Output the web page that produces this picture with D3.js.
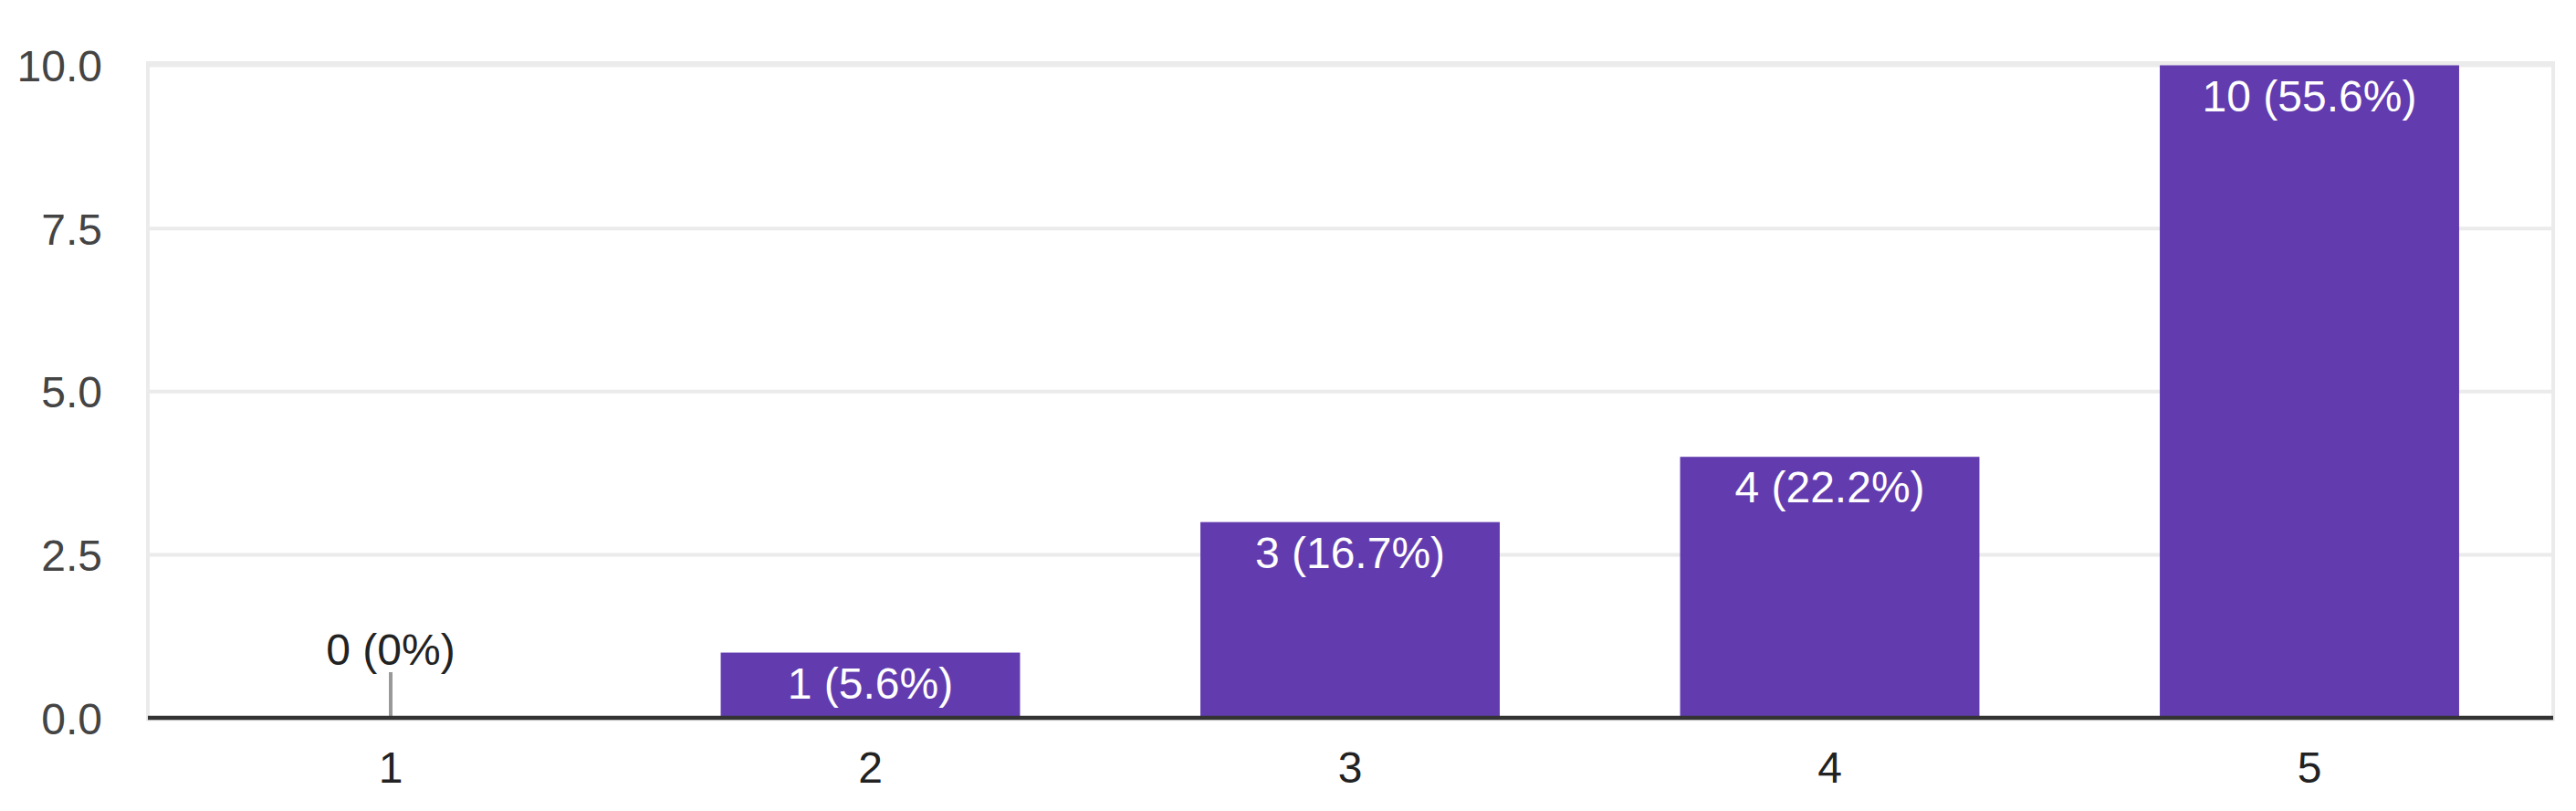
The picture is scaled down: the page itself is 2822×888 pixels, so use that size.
<!DOCTYPE html>
<html>
<head>
<meta charset="utf-8">
<script src="https://cdn.jsdelivr.net/npm/d3@7"></script>
<style>
  html, body { margin: 0; padding: 0; background: #fff; }
  svg { display: block; font-family: Arial, "Liberation Sans", sans-serif; }
</style>
</head>
<body>
<svg id="chart" width="2822" height="888"></svg>
<script>
const categories = ["1", "2", "3", "4", "5"];
const counts = [0, 1, 3, 4, 10];
const labels = ["0 (0%)", "1 (5.6%)", "3 (16.7%)", "4 (22.2%)", "10 (55.6%)"];
const yTicks = [0, 2.5, 5, 7.5, 10];

(function () {
const mLeft = 162, mRight = 2797, mTop = 71.5, mBottom = 786;
const svg = d3.select("#chart");

const x = d3.scaleBand().domain(categories).range([165.25, 2792.75])
  .paddingInner(0.376).paddingOuter(0.188);
const y = d3.scaleLinear().domain([0, 10]).range([mBottom, mTop]);

// frame
svg.append("rect")
  .attr("x", mLeft).attr("y", mTop - 2.5)
  .attr("width", mRight - mLeft).attr("height", mBottom - mTop + 4)
  .attr("fill", "none").attr("stroke", "#ebebeb").attr("stroke-width", 4);

// gridlines
svg.append("g").selectAll("line").data(yTicks).join("line")
  .attr("x1", mLeft).attr("x2", mRight)
  .attr("y1", d => y(d)).attr("y2", d => y(d))
  .attr("stroke", "#ebebeb").attr("stroke-width", 4);

// y axis labels
const yAxis = d3.axisLeft(y).tickValues(yTicks).tickFormat(d3.format(".1f")).tickSize(0).tickPadding(50);
const gy = svg.append("g").attr("transform", `translate(${mLeft},0)`).call(yAxis);
gy.select(".domain").remove();
gy.selectAll("text")
  .attr("font-size", 48).attr("fill", "#444")
  .attr("font-family", 'Arial, "Liberation Sans", sans-serif')
  .attr("dy", "0.358em");

// bars
svg.append("g").selectAll("rect").data(categories).join("rect")
  .attr("x", d => x(d))
  .attr("width", x.bandwidth())
  .attr("y", (d, i) => y(counts[i]))
  .attr("height", (d, i) => y(0) - y(counts[i]))
  .attr("fill", "#623caf");

// zero stubs
svg.append("g").selectAll("line").data(categories.filter((d, i) => counts[i] === 0)).join("line")
  .attr("x1", d => x(d) + x.bandwidth() / 2).attr("x2", d => x(d) + x.bandwidth() / 2)
  .attr("y1", y(0)).attr("y2", y(0) - 50)
  .attr("stroke", "#999").attr("stroke-width", 4);

// baseline
svg.append("line")
  .attr("x1", mLeft).attr("x2", mRight)
  .attr("y1", y(0)).attr("y2", y(0))
  .attr("stroke", "#333").attr("stroke-width", 4.5);

// value labels
svg.append("g").selectAll("text").data(categories).join("text")
  .attr("x", d => x(d) + x.bandwidth() / 2)
  .attr("y", (d, i) => counts[i] === 0 ? y(0) - 58 : y(counts[i]) + 50)
  .attr("text-anchor", "middle")
  .attr("font-size", 48)
  .attr("fill", (d, i) => counts[i] === 0 ? "#222" : "#fff")
  .text((d, i) => labels[i]);

// x axis labels
const xAxis = d3.axisBottom(x).tickSize(0).tickPadding(0);
const gx = svg.append("g").attr("transform", `translate(0,${y(0)})`).call(xAxis);
gx.select(".domain").remove();
gx.selectAll("text")
  .attr("font-size", 48).attr("fill", "#222")
  .attr("font-family", 'Arial, "Liberation Sans", sans-serif')
  .attr("dy", null).attr("y", 71);
})();
</script>
</body>
</html>
